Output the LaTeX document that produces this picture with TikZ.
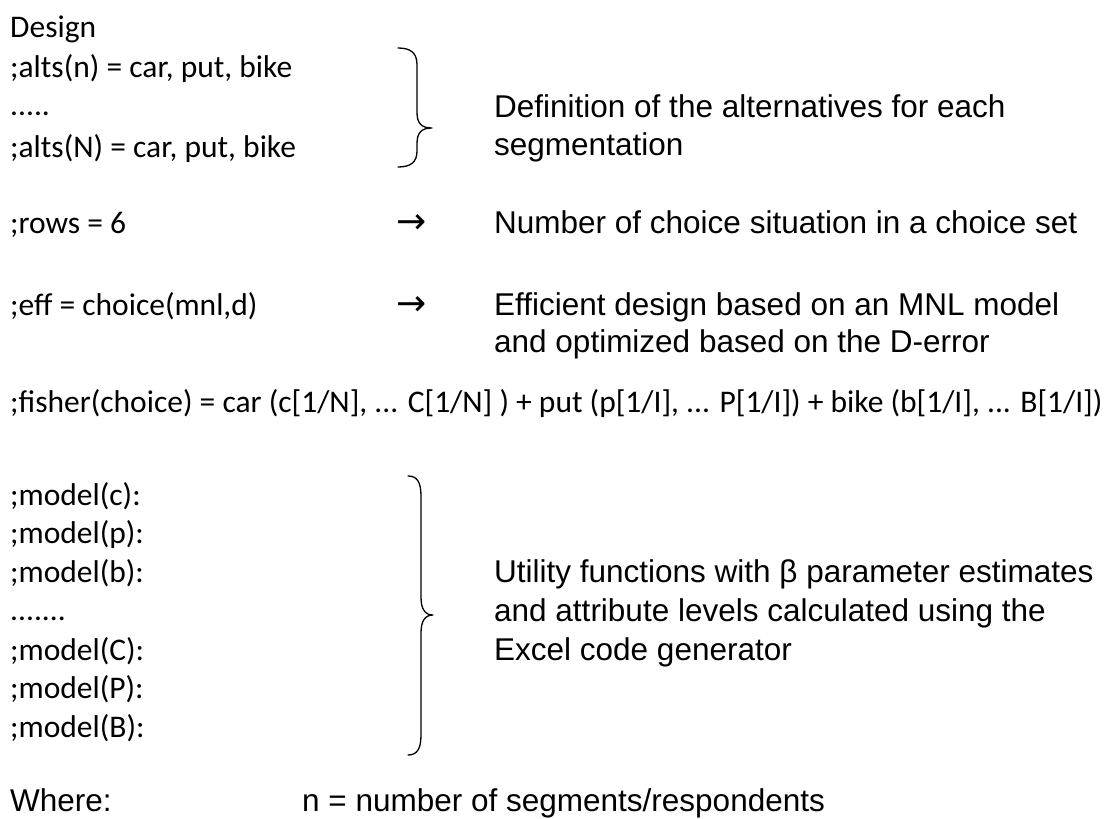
\documentclass[tikz,border=0pt]{standalone}
\usepackage{fontspec}
\setmainfont{Carlito}
\newfontfamily\arialf{Liberation Sans}
\newfontfamily\arrowf{DejaVu Sans}
\begin{document}
\begin{tikzpicture}[x=1pt,y=-1pt,
  code/.style={anchor=base west, inner sep=0pt, font=\fontsize{31.5}{38}\selectfont},
  expl/.style={anchor=base west, inner sep=0pt, font=\arialf\fontsize{31.5}{38}\selectfont},
  arr/.style={anchor=base west, inner sep=0pt, font=\arrowf\fontsize{36}{38}\selectfont},
  bracepath/.style={draw=black, line width=1.3pt, line cap=round, line join=round}]
\useasboundingbox (0,0) rectangle (1117,819);
% left column
\node[code] (design) at (10,37) {Design};
\node[code] (altsn) at (10,77) {;alts(n) = car, put, bike};
\node[code] (dots1) at (10,115) {.....};
\node[code] (altsN) at (10,157) {;alts(N) = car, put, bike};
\node[code] (rows) at (10,233) {;rows = 6};
\node[code] (eff) at (10,315) {;eff = choice(mnl,d)};
\node[code] (fisher) at (10,412) {;fisher(choice) = car (c[1/N], ... C[1/N] ) + put (p[1/I], ... P[1/I]) + bike (b[1/I], ... B[1/I])};
\node[code] (mc) at (10,505) {;model(c):};
\node[code] (mp) at (10,543) {;model(p):};
\node[code] (mb) at (10,582) {;model(b):};
\node[code] (dots2) at (10,620) {.......};
\node[code] (mC) at (10,660) {;model(C):};
\node[code] (mP) at (10,698) {;model(P):};
\node[code] (mB) at (10,737) {;model(B):};
% arrows
\node[arr] (arr1) at (396,233) {→};
\node[arr] (arr2) at (396,315) {→};
% right column
\node[expl] (def1) at (494,117) {Definition of the alternatives for each};
\node[expl] (def2) at (494,155) {segmentation};
\node[expl] (num) at (494,233) {Number of choice situation in a choice set};
\node[expl] (eff1) at (494,315) {Efficient design based on an MNL model};
\node[expl] (eff2) at (494,352) {and optimized based on the D-error};
\node[expl] (ut1) at (494,582) {Utility functions with β parameter estimates};
\node[expl] (ut2) at (494,621) {and attribute levels calculated using the};
\node[expl] (ut3) at (494,660) {Excel code generator};
\node[expl] (where) at (10,811) {Where:};
\node[expl] (nseg) at (302,811) {n = number of segments/respondents};
% braces
\draw[bracepath] (398,48) .. controls (411,48) and (417,53) .. (417,65)
  -- (417,112) .. controls (417,123) and (421,128) .. (432,128)
  .. controls (421,128) and (417,133) .. (417,144)
  -- (417,151) .. controls (417,162) and (411,167) .. (398,167);
\draw[bracepath] (408,476) .. controls (417,476) and (421,482) .. (421,496)
  -- (421,597) .. controls (421,609) and (425,615) .. (433,615)
  .. controls (425,615) and (421,621) .. (421,633)
  -- (421,735) .. controls (421,749) and (417,755) .. (408,755);
\end{tikzpicture}
\end{document}
